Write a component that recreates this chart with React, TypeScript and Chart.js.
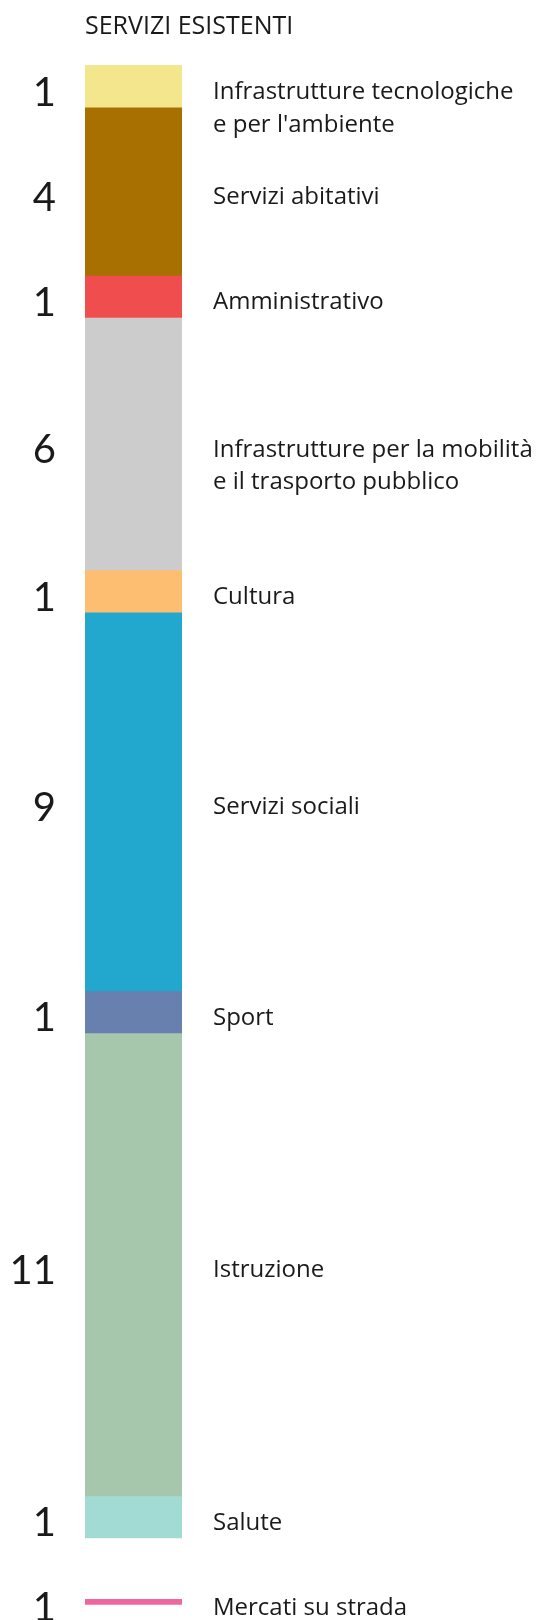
import React, { useEffect, useRef } from 'react';
import { Chart, registerables } from 'chart.js';

Chart.register(...registerables);

const TITLE = 'SERVIZI ESISTENTI';
const categories: string[][] = [
  ['Infrastrutture tecnologiche', "e per l'ambiente"],
  ['Servizi abitativi'],
  ['Amministrativo'],
  ['Infrastrutture per la mobilità', 'e il trasporto pubblico'],
  ['Cultura'],
  ['Servizi sociali'],
  ['Sport'],
  ['Istruzione'],
  ['Salute'],
];
const counts: number[] = [1, 4, 1, 6, 1, 9, 1, 11, 1];
const colors: string[] = [
  '#F3E68C',
  '#A87000',
  '#F04E4E',
  '#CCCCCC',
  '#FDBE72',
  '#22A7CF',
  '#6780AD',
  '#A7C7AC',
  '#A2DBD3',
];
const lineCategory: string[] = ['Mercati su strada'];
const lineCount = 1;
const lineColor = '#F0679E';

const FONT = '"Open Sans", "Noto Sans", sans-serif';
const NUM_FONT = 'Lato, "Noto Sans", sans-serif';
const TEXT_COLOR = '#1a1a1a';

export default function App() {
  const ref = useRef<HTMLCanvasElement | null>(null);

  useEffect(() => {
    const canvas = ref.current;
    if (!canvas) return;

    const total = counts.reduce((a, b) => a + b, 0);
    let cum = 0;
    const datasets: any[] = counts.map((c, i) => {
      const start = cum;
      cum += c;
      return {
        label: categories[i].join(' '),
        data: [[start, cum]],
        backgroundColor: colors[i],
        borderWidth: 0,
        grouped: false,
        categoryPercentage: 1,
        barPercentage: 1,
        _count: c,
        _lines: categories[i],
      };
    });
    const lineCenter = total + 1.52;
    datasets.push({
      label: lineCategory.join(' '),
      data: [[lineCenter - 0.07, lineCenter + 0.07]],
      backgroundColor: lineColor,
      borderWidth: 0,
      borderRadius: 10,
      borderSkipped: false,
      grouped: false,
      categoryPercentage: 1,
      barPercentage: 1.04,
      _count: lineCount,
      _lines: lineCategory,
    });

    const labelsPlugin = {
      id: 'sideLabels',
      afterDatasetsDraw(chart: any) {
        const { ctx, chartArea } = chart;
        ctx.save();
        ctx.fillStyle = TEXT_COLOR;
        ctx.textBaseline = 'alphabetic';
        ctx.textAlign = 'left';
        ctx.font = `25px ${FONT}`;
        ctx.fillText(TITLE, chartArea.left + 0, 33.5);

        chart.data.datasets.forEach((ds: any, i: number) => {
          const meta = chart.getDatasetMeta(i);
          const el = meta.data[0];
          if (!el) return;
          const cy = (el.y + el.base) / 2;
          ctx.fillStyle = TEXT_COLOR;
          ctx.textBaseline = 'alphabetic';
          ctx.textAlign = 'right';
          ctx.font = `40px ${NUM_FONT}`;
          ctx.fillText(String(ds._count), chartArea.left - 29, cy + 19.5);
          ctx.textAlign = 'left';
          ctx.font = `24px ${FONT}`;
          (ds._lines as string[]).forEach((line, j) => {
            ctx.fillText(line, chartArea.right + 31, cy + 13 + j * 32.5);
          });
        });
        ctx.restore();
      },
    };

    const chart = new Chart(canvas, {
      type: 'bar',
      data: {
        labels: ['Servizi'],
        datasets,
      },
      options: {
        animation: false,
        responsive: false,
        maintainAspectRatio: false,
        layout: { padding: { left: 85, right: 358, top: 65, bottom: 0 } },
        scales: {
          x: { display: false, offset: true },
          y: { display: false, min: 0, max: 36.95, reverse: true },
        },
        plugins: {
          legend: { display: false },
          tooltip: { enabled: false },
          title: { display: false },
        },
      },
      plugins: [labelsPlugin],
    });

    return () => chart.destroy();
  }, []);

  return (
    <div style={{ position: 'absolute', left: 0, top: 0, width: 540, height: 1620 }}>
      <canvas ref={ref} width={540} height={1620} style={{ display: 'block', width: 540, height: 1620 }} />
    </div>
  );
}
